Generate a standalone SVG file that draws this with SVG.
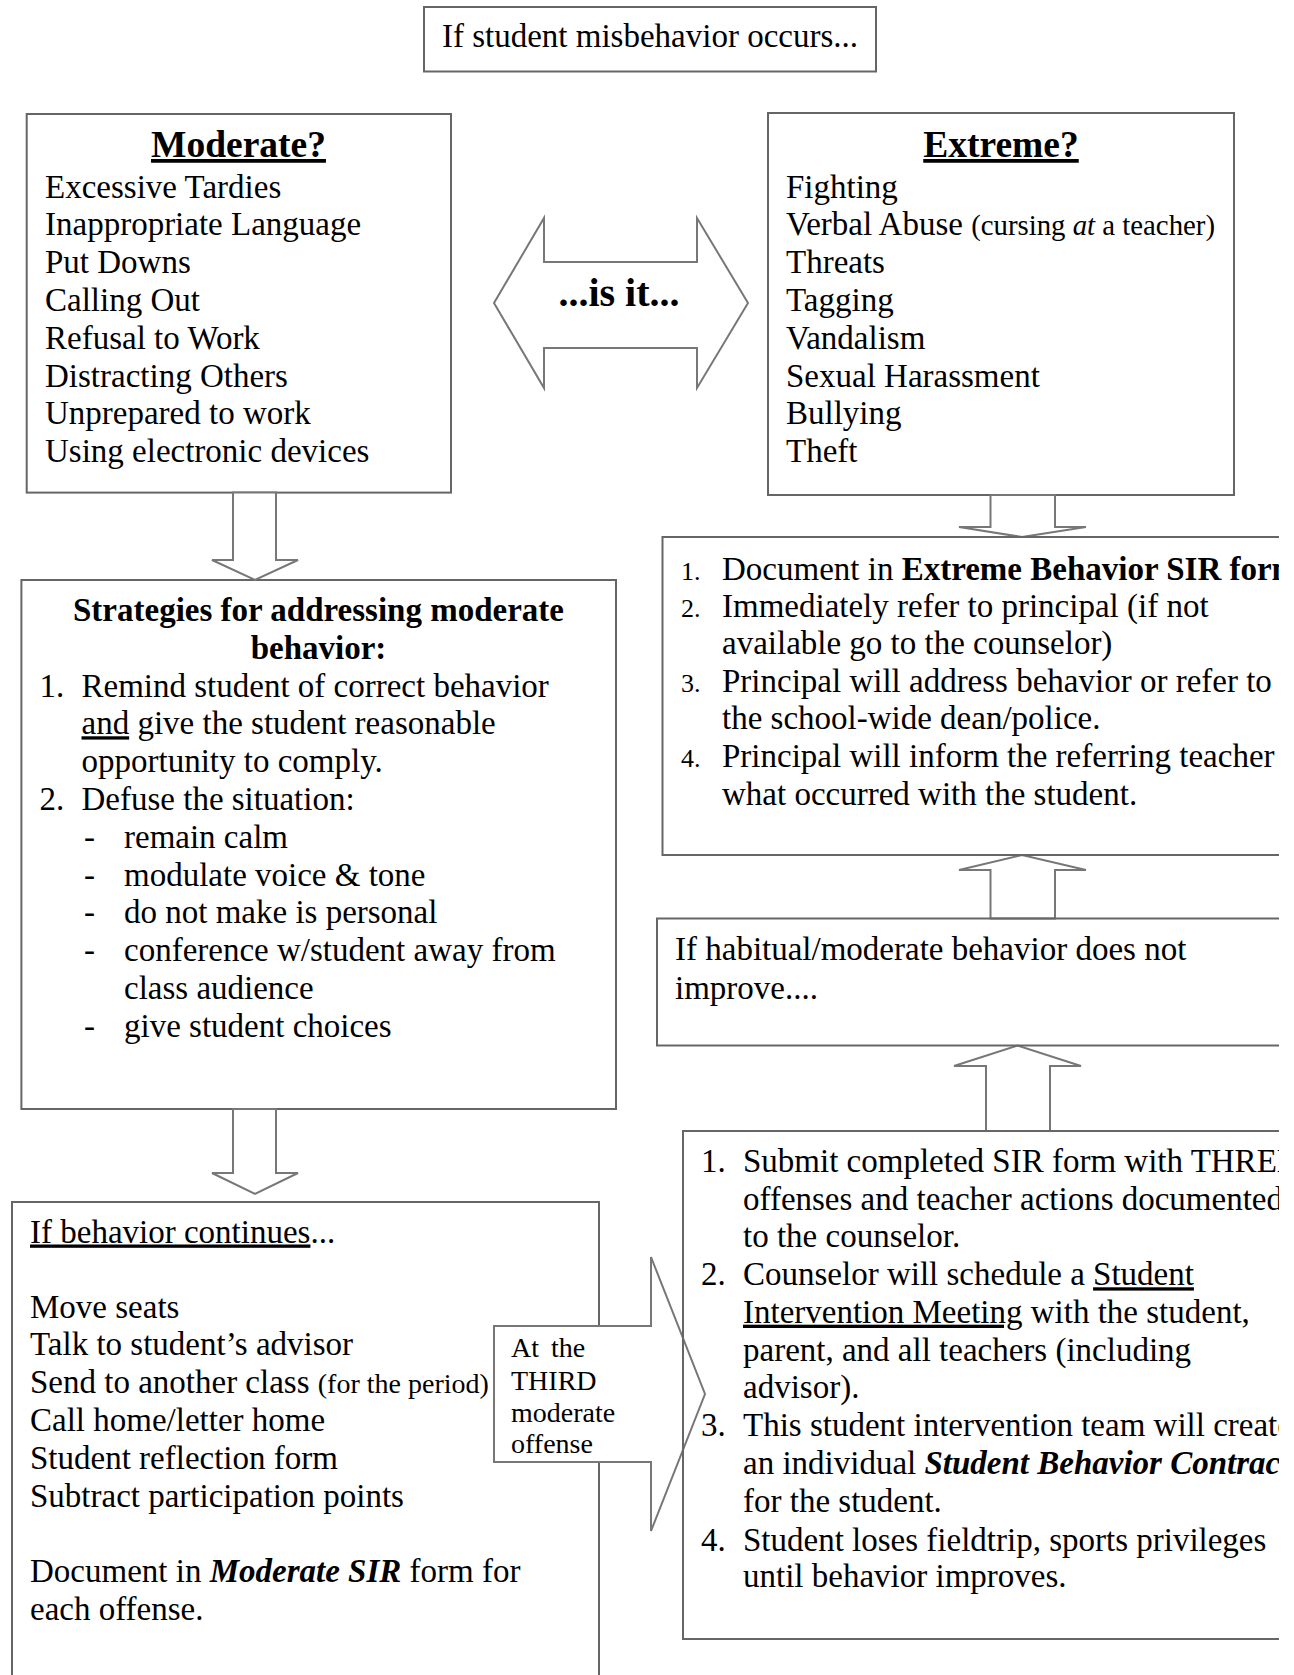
<svg xmlns="http://www.w3.org/2000/svg" width="1294" height="1675" viewBox="0 0 1294 1675">
<defs>
<style>
.t{font-family:"Liberation Serif","Times New Roman",serif;font-size:33px;fill:#000}
.b{font-weight:bold}
.bi{font-weight:bold;font-style:italic}
.i{font-style:italic}
.u{text-decoration:underline}
.sm{font-size:28px}
.num{font-size:26px}
.box{fill:none;stroke:#666;stroke-width:2}
.arr{fill:#fff;stroke:#777;stroke-width:2;stroke-linejoin:miter}
</style>
<clipPath id="page"><rect x="0" y="0" width="1279" height="1675"/></clipPath>
</defs>
<rect x="0" y="0" width="1294" height="1675" fill="#fff"/>
<g clip-path="url(#page)">

<g id="n-start">
<rect class="box" x="424" y="7" width="452" height="64.5"/>
<text class="t" x="650" y="47" text-anchor="middle">If student misbehavior occurs...</text>
</g>

<g id="n-moderate">
<rect class="box" x="26.7" y="114" width="424.3" height="378.6"/>
<text class="t b u" x="238.5" y="157" text-anchor="middle" style="font-size:37.5px">Moderate?</text>
<text class="t" x="45" y="197.5">Excessive Tardies</text>
<text class="t" x="45" y="235.3">Inappropriate Language</text>
<text class="t" x="45" y="273.1">Put Downs</text>
<text class="t" x="45" y="310.9">Calling Out</text>
<text class="t" x="45" y="348.7">Refusal to Work</text>
<text class="t" x="45" y="386.5">Distracting Others</text>
<text class="t" x="45" y="424.3">Unprepared to work</text>
<text class="t" x="45" y="462.1">Using electronic devices</text>
</g>

<g id="n-extreme">
<rect class="box" x="768" y="113" width="466" height="382"/>
<text class="t b u" x="1001" y="157" text-anchor="middle" style="font-size:37.5px">Extreme?</text>
<text class="t" x="786" y="197.5">Fighting</text>
<text class="t" x="786" y="235.3">Verbal Abuse <tspan class="sm" style="font-size:28.8px">(cursing <tspan class="i">at</tspan> a teacher)</tspan></text>
<text class="t" x="786" y="273.1">Threats</text>
<text class="t" x="786" y="310.9">Tagging</text>
<text class="t" x="786" y="348.7">Vandalism</text>
<text class="t" x="786" y="386.5">Sexual Harassment</text>
<text class="t" x="786" y="424.3">Bullying</text>
<text class="t" x="786" y="462.1">Theft</text>
</g>

<g id="n-strategies">
<rect class="box" x="21.4" y="580" width="594.6" height="529"/>
<text class="t b" x="318.5" y="621" text-anchor="middle">Strategies for addressing moderate</text>
<text class="t b" x="318.5" y="658.5" text-anchor="middle">behavior:</text>
<text class="t" x="39.5" y="696.5">1.</text>
<text class="t" x="81.5" y="696.5">Remind student of correct behavior</text>
<text class="t" x="81.5" y="734.3"><tspan class="u">and</tspan> give the student reasonable</text>
<text class="t" x="81.5" y="772.1">opportunity to comply.</text>
<text class="t" x="39.5" y="809.9">2.</text>
<text class="t" x="81.5" y="809.9">Defuse the situation:</text>
<text class="t" x="84" y="847.7">-</text>
<text class="t" x="124" y="847.7">remain calm</text>
<text class="t" x="84" y="885.5">-</text>
<text class="t" x="124" y="885.5">modulate voice &amp; tone</text>
<text class="t" x="84" y="923.3">-</text>
<text class="t" x="124" y="923.3">do not make is personal</text>
<text class="t" x="84" y="961.1">-</text>
<text class="t" x="124" y="961.1">conference w/student away from</text>
<text class="t" x="124" y="998.9">class audience</text>
<text class="t" x="84" y="1037.2">-</text>
<text class="t" x="124" y="1037.2">give student choices</text>
</g>

<g id="n-continues">
<rect class="box" x="12" y="1202" width="587" height="520"/>
<text class="t" x="30" y="1242.5"><tspan class="u">If behavior continues</tspan>...</text>
<text class="t" x="30" y="1317.6">Move seats</text>
<text class="t" x="30" y="1355.4">Talk to student’s advisor</text>
<text class="t" x="30" y="1393.2">Send to another class <tspan class="sm">(for the period)</tspan></text>
<text class="t" x="30" y="1431">Call home/letter home</text>
<text class="t" x="30" y="1468.8">Student reflection form</text>
<text class="t" x="30" y="1506.6">Subtract participation points</text>
<text class="t" x="30" y="1582.2">Document in <tspan class="bi">Moderate SIR</tspan> form for</text>
<text class="t" x="30" y="1620">each offense.</text>
</g>

<g id="connectors">
<polygon class="arr" points="233,492.6 276,492.6 276,560 298,560 255,580 212,560 233,560"/>
<polygon class="arr" points="233,1109 276,1109 276,1173 298,1173 255,1194 212,1173 233,1173"/>
<polygon class="arr" points="494,303 544,218 544,262 697,262 697,218 748,303 697,388 697,348 544,348 544,388"/>
<text class="t b" x="619" y="306" text-anchor="middle" style="font-size:40px">...is it...</text>
<polygon class="arr" points="990.5,495 1055,495 1055,527 1086,527 1022,537 959,527 990.5,527"/>
<polygon class="arr" points="990.5,918.5 1055,918.5 1055,870 1086,870 1022,855 959,870 990.5,870"/>
<polygon class="arr" points="986,1131 1050,1131 1050,1066 1081,1066 1017.5,1045.5 954,1066 986,1066"/>
<polygon class="arr" points="494,1326 651,1326 651,1257 705,1394 651,1531 651,1462 494,1462"/>
<text class="t sm" x="511" y="1357">At</text>
<text class="t sm" x="551" y="1357">the</text>
<text class="t sm" x="511" y="1390">THIRD</text>
<text class="t sm" x="511" y="1422">moderate</text>
<text class="t sm" x="511" y="1453">offense</text>
</g>

<g id="n-document">
<rect class="box" x="662.5" y="537" width="700" height="318"/>
<text class="t num" x="681" y="580">1.</text>
<text class="t" x="722" y="580">Document in <tspan class="b">Extreme Behavior SIR form</tspan></text>
<text class="t num" x="681" y="617">2.</text>
<text class="t" x="722" y="617">Immediately refer to principal (if not</text>
<text class="t" x="722" y="654.3">available go to the counselor)</text>
<text class="t num" x="681" y="691.8">3.</text>
<text class="t" x="722" y="691.8">Principal will address behavior or refer to</text>
<text class="t" x="722" y="729.2">the school-wide dean/police.</text>
<text class="t num" x="681" y="767">4.</text>
<text class="t" x="722" y="767">Principal will inform the referring teacher</text>
<text class="t" x="722" y="804.8">what occurred with the student.</text>
</g>

<g id="n-habitual">
<rect class="box" x="657" y="918.5" width="700" height="127"/>
<text class="t" x="675" y="960">If habitual/moderate behavior does not</text>
<text class="t" x="675" y="998.5">improve....</text>
</g>

<g id="n-intervention">
<rect class="box" x="683" y="1131" width="700" height="508"/>
<text class="t" x="701" y="1171.5">1.</text>
<text class="t" x="743" y="1171.5">Submit completed SIR form with THREE</text>
<text class="t" x="743" y="1209.5">offenses and teacher actions documented</text>
<text class="t" x="743" y="1247.1">to the counselor.</text>
<text class="t" x="701" y="1285.3">2.</text>
<text class="t" x="743" y="1285.3">Counselor will schedule a <tspan class="u">Student</tspan></text>
<text class="t" x="743" y="1322.7"><tspan class="u">Intervention Meeting</tspan> with the student,</text>
<text class="t" x="743" y="1360.5">parent, and all teachers (including</text>
<text class="t" x="743" y="1398.3">advisor).</text>
<text class="t" x="701" y="1436.1">3.</text>
<text class="t" x="743" y="1436.1">This student intervention team will create</text>
<text class="t" x="743" y="1473.9">an individual <tspan class="bi">Student Behavior Contract</tspan></text>
<text class="t" x="743" y="1511.7">for the student.</text>
<text class="t" x="701" y="1551">4.</text>
<text class="t" x="743" y="1551">Student loses fieldtrip, sports privileges</text>
<text class="t" x="743" y="1586.5">until behavior improves.</text>
</g>

</g>
</svg>
